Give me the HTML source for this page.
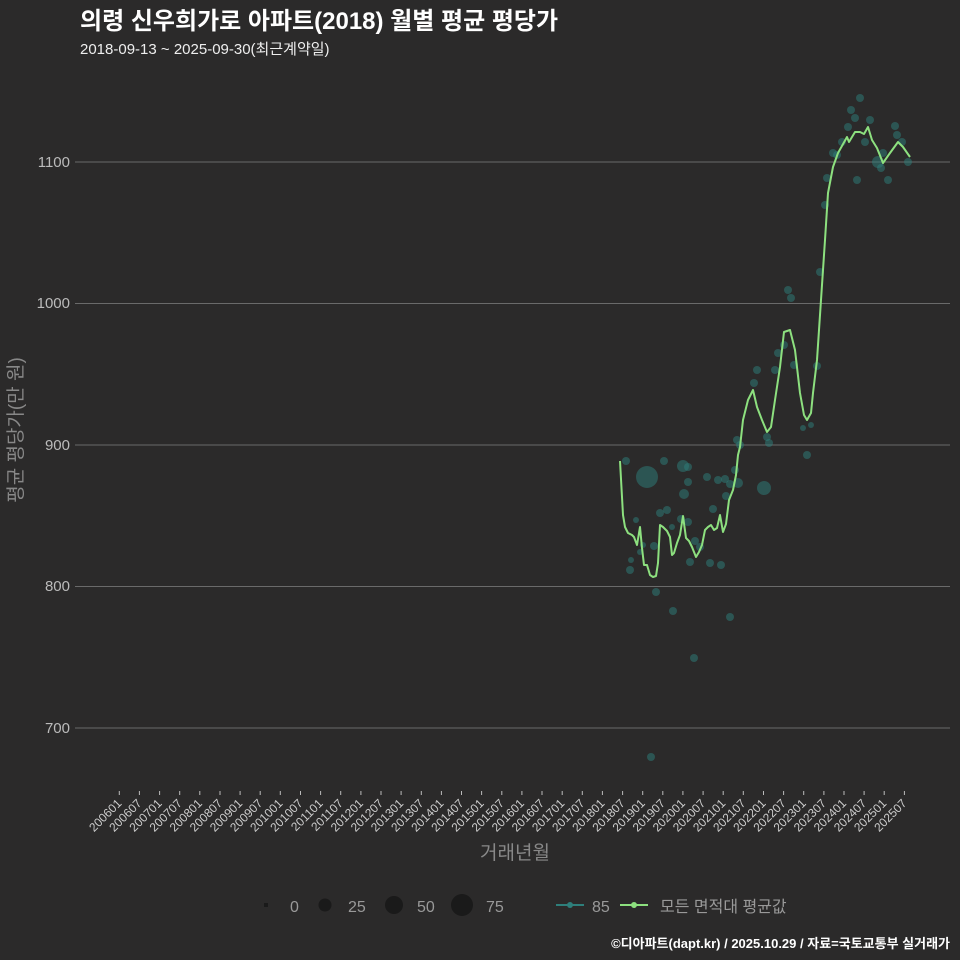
<!DOCTYPE html>
<html><head><meta charset="utf-8"><style>
body{margin:0;background:#2b2a2a;}
svg{display:block;font-family:"Liberation Sans","Noto Sans CJK KR",sans-serif;}
</style></head><body>
<svg width="960" height="960" viewBox="0 0 960 960" xmlns="http://www.w3.org/2000/svg">
<rect width="960" height="960" fill="#2b2a2a"/>
<text x="80" y="29" fill="#fff" font-size="24" font-weight="bold">의령 신우희가로 아파트(2018) 월별 평균 평당가</text>
<text x="80" y="54" fill="#eee" font-size="15">2018-09-13 ~ 2025-09-30(최근계약일)</text>
<g stroke="#6a6a6a" stroke-width="1">
<line x1="75" x2="950" y1="162" y2="162"/><line x1="75" x2="950" y1="303.5" y2="303.5"/>
<line x1="75" x2="950" y1="445" y2="445"/><line x1="75" x2="950" y1="586.5" y2="586.5"/>
<line x1="75" x2="950" y1="728" y2="728"/>
</g>
<g fill="#bbb" font-size="15" text-anchor="end">
<text x="70" y="167">1100</text><text x="70" y="308">1000</text><text x="70" y="450">900</text><text x="70" y="591">800</text><text x="70" y="733">700</text>
</g>
<text transform="translate(22,430) rotate(-90)" fill="#888" font-size="19" text-anchor="middle">평균 평당가(만 원)</text>
<path stroke="#bbb" stroke-width="1" d="M119.3 791v4M139.4 791v4M159.6 791v4M179.7 791v4M199.8 791v4M220 791v4M240.1 791v4M260.2 791v4M280.3 791v4M300.5 791v4M320.6 791v4M340.7 791v4M360.9 791v4M381 791v4M401.1 791v4M421.3 791v4M441.4 791v4M461.5 791v4M481.6 791v4M501.8 791v4M521.9 791v4M542 791v4M562.2 791v4M582.3 791v4M602.4 791v4M622.6 791v4M642.7 791v4M662.8 791v4M682.9 791v4M703.1 791v4M723.2 791v4M743.3 791v4M763.5 791v4M783.6 791v4M803.7 791v4M823.9 791v4M844 791v4M864.1 791v4M884.2 791v4M904.4 791v4"/>
<g fill="#ccc" font-size="12" text-anchor="end">
<text transform="translate(122.3,804) rotate(-45)">200601</text>
<text transform="translate(142.4,804) rotate(-45)">200607</text>
<text transform="translate(162.6,804) rotate(-45)">200701</text>
<text transform="translate(182.7,804) rotate(-45)">200707</text>
<text transform="translate(202.8,804) rotate(-45)">200801</text>
<text transform="translate(223,804) rotate(-45)">200807</text>
<text transform="translate(243.1,804) rotate(-45)">200901</text>
<text transform="translate(263.2,804) rotate(-45)">200907</text>
<text transform="translate(283.3,804) rotate(-45)">201001</text>
<text transform="translate(303.5,804) rotate(-45)">201007</text>
<text transform="translate(323.6,804) rotate(-45)">201101</text>
<text transform="translate(343.7,804) rotate(-45)">201107</text>
<text transform="translate(363.9,804) rotate(-45)">201201</text>
<text transform="translate(384,804) rotate(-45)">201207</text>
<text transform="translate(404.1,804) rotate(-45)">201301</text>
<text transform="translate(424.3,804) rotate(-45)">201307</text>
<text transform="translate(444.4,804) rotate(-45)">201401</text>
<text transform="translate(464.5,804) rotate(-45)">201407</text>
<text transform="translate(484.6,804) rotate(-45)">201501</text>
<text transform="translate(504.8,804) rotate(-45)">201507</text>
<text transform="translate(524.9,804) rotate(-45)">201601</text>
<text transform="translate(545,804) rotate(-45)">201607</text>
<text transform="translate(565.2,804) rotate(-45)">201701</text>
<text transform="translate(585.3,804) rotate(-45)">201707</text>
<text transform="translate(605.4,804) rotate(-45)">201801</text>
<text transform="translate(625.6,804) rotate(-45)">201807</text>
<text transform="translate(645.7,804) rotate(-45)">201901</text>
<text transform="translate(665.8,804) rotate(-45)">201907</text>
<text transform="translate(685.9,804) rotate(-45)">202001</text>
<text transform="translate(706.1,804) rotate(-45)">202007</text>
<text transform="translate(726.2,804) rotate(-45)">202101</text>
<text transform="translate(746.3,804) rotate(-45)">202107</text>
<text transform="translate(766.5,804) rotate(-45)">202201</text>
<text transform="translate(786.6,804) rotate(-45)">202207</text>
<text transform="translate(806.7,804) rotate(-45)">202301</text>
<text transform="translate(826.9,804) rotate(-45)">202307</text>
<text transform="translate(847,804) rotate(-45)">202401</text>
<text transform="translate(867.1,804) rotate(-45)">202407</text>
<text transform="translate(887.2,804) rotate(-45)">202501</text>
<text transform="translate(907.4,804) rotate(-45)">202507</text>
</g>
<text x="515" y="859" fill="#888" font-size="19" text-anchor="middle">거래년월</text>
<g fill="#2e7f7b" fill-opacity="0.5">
<circle cx="626" cy="461" r="4"/><circle cx="647" cy="477" r="11"/><circle cx="664" cy="461" r="4"/><circle cx="631" cy="560" r="3"/><circle cx="630" cy="570" r="4"/><circle cx="656" cy="592" r="4"/><circle cx="654" cy="546" r="4"/><circle cx="660" cy="513" r="4"/><circle cx="667" cy="510" r="4"/><circle cx="684" cy="494" r="5"/><circle cx="683" cy="466" r="6"/><circle cx="688" cy="467" r="4"/><circle cx="688" cy="482" r="4"/><circle cx="707" cy="477" r="4"/><circle cx="695" cy="541" r="4"/><circle cx="673" cy="611" r="4"/><circle cx="694" cy="658" r="4"/><circle cx="651" cy="757" r="4"/><circle cx="690" cy="562" r="4"/><circle cx="700" cy="547" r="4"/><circle cx="710" cy="563" r="4"/><circle cx="721" cy="565" r="4"/><circle cx="730" cy="617" r="4"/><circle cx="725" cy="479" r="4"/><circle cx="730" cy="484" r="4"/><circle cx="735" cy="470" r="4"/><circle cx="737" cy="440" r="4"/><circle cx="764" cy="488" r="7"/><circle cx="738" cy="483" r="5"/><circle cx="757" cy="370" r="4"/><circle cx="754" cy="383" r="4"/><circle cx="740" cy="445" r="4"/><circle cx="767" cy="437" r="4"/><circle cx="769" cy="443" r="4"/><circle cx="778" cy="353" r="4"/><circle cx="775" cy="370" r="4"/><circle cx="788" cy="290" r="4"/><circle cx="791" cy="298" r="4"/><circle cx="784" cy="345" r="4"/><circle cx="794" cy="365" r="4"/><circle cx="803" cy="428" r="3"/><circle cx="807" cy="455" r="4"/><circle cx="811" cy="425" r="3"/><circle cx="817" cy="366" r="4"/><circle cx="820" cy="272" r="4"/><circle cx="825" cy="205" r="4"/><circle cx="827" cy="178" r="4"/><circle cx="833" cy="153" r="4"/><circle cx="837" cy="155" r="4"/><circle cx="842" cy="142" r="4"/><circle cx="848" cy="127" r="4"/><circle cx="851" cy="110" r="4"/><circle cx="855" cy="118" r="4"/><circle cx="860" cy="98" r="4"/><circle cx="865" cy="142" r="4"/><circle cx="870" cy="120" r="4"/><circle cx="857" cy="180" r="4"/><circle cx="878" cy="162" r="6"/><circle cx="881" cy="168" r="4"/><circle cx="888" cy="180" r="4"/><circle cx="895" cy="126" r="4"/><circle cx="897" cy="135" r="4"/><circle cx="902" cy="142" r="4"/><circle cx="908" cy="162" r="4"/><circle cx="883" cy="153" r="4"/><circle cx="681" cy="519" r="4"/><circle cx="688" cy="522" r="4"/><circle cx="713" cy="509" r="4"/><circle cx="726" cy="496" r="4"/><circle cx="718" cy="480" r="4"/><circle cx="672" cy="527" r="3"/><circle cx="636" cy="520" r="3"/><circle cx="640" cy="552" r="3"/><circle cx="643" cy="545" r="3"/>
</g>
<polyline fill="none" stroke="#8de07f" stroke-width="2" stroke-linejoin="round" points="620,461 623,515 625,527 628,533 632,535 634,537 637,545 640,527 642,548 644,565 647,565 650,575 653,577 656,576 658,563 660,525 663,527 667,531 670,537 672,555 674,553 677,543 680,535 683,516 686,538 689,541 692,547 696,557 699,552 702,545 705,530 708,527 711,525 714,530 717,528 720,515 723,532 726,524 729,500 733,490 736,475 738,455 740,447 743,420 748,400 753,390 757,407 762,420 767,432 771,427 775,400 780,367 784,332 790,330 795,350 800,393 804,415 807,420 811,413 813,393 817,360 821,300 825,240 828,193 833,167 838,153 847,137 849,142 855,132 860,132 864,134 868,127 872,140 877,148 883,163 890,153 898,142 903,147 910,157"/>
<g font-size="16" fill="#999">
<rect x="264" y="903" width="4" height="4" fill="#1a1a1a"/><text x="290" y="912">0</text>
<circle cx="325" cy="905" r="6.5" fill="#1a1a1a"/><text x="348" y="912">25</text>
<circle cx="394" cy="905" r="9" fill="#1a1a1a"/><text x="417" y="912">50</text>
<circle cx="462" cy="905" r="11" fill="#1a1a1a"/><text x="486" y="912">75</text>
<line x1="556" x2="584" y1="905" y2="905" stroke="#2e7f7b" stroke-width="2"/><circle cx="570" cy="905" r="3" fill="#2e7f7b"/><text x="592" y="912">85</text>
<line x1="620" x2="648" y1="905" y2="905" stroke="#8de07f" stroke-width="2"/><circle cx="634" cy="905" r="3" fill="#8de07f"/><text x="660" y="912">모든 면적대 평균값</text>
</g>
<text x="950" y="948" fill="#fff" font-size="13" font-weight="bold" text-anchor="end">©디아파트(dapt.kr) / 2025.10.29 / 자료=국토교통부 실거래가</text>
</svg>
</body></html>
